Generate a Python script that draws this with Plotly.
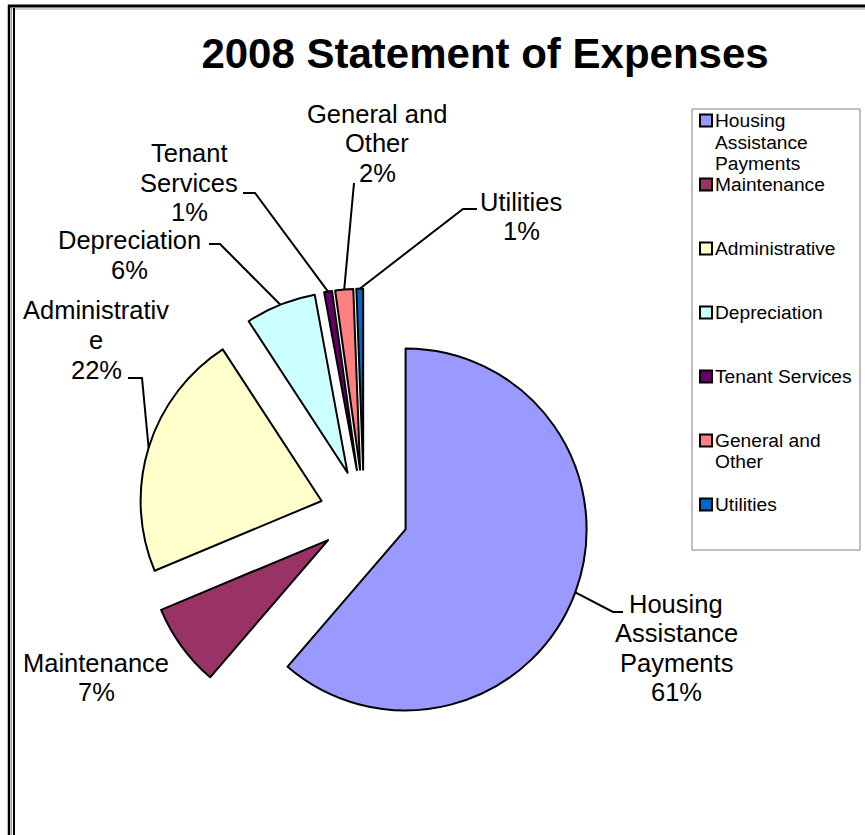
import math
import plotly.graph_objects as go

# ---------------- data ----------------
categories = ["Housing Assistance Payments", "Maintenance", "Administrative",
              "Depreciation", "Tenant Services", "General and Other", "Utilities"]
values = [61.3, 7.4, 22.1, 6.3, 0.7, 1.6, 0.6]
colors = ["#9999FF", "#993366", "#FFFFCC", "#CCFFFF", "#660066", "#FF8080", "#0066CC"]
legend_lines = [["Housing", "Assistance", "Payments"], ["Maintenance"], ["Administrative"],
                ["Depreciation"], ["Tenant Services"], ["General and", "Other"], ["Utilities"]]
label_lines = [["Housing", "Assistance", "Payments"], ["Maintenance"], ["Administrativ", "e"],
               ["Depreciation"], ["Tenant", "Services"], ["General and", "Other"], ["Utilities"]]
title_text = "2008 Statement of Expenses"

# ---------------- layout geometry (pixels) ----------------
W, H = 865, 835
CX, CY = 364, 514          # pie centre
R = 181                    # pie radius
PULL = 0.245               # explosion (fraction of radius)
FONT = "Arial, Liberation Sans, sans-serif"

label_pos = [(676, 603.5), (96, 662.5), (96, 310.5), (129, 240.5),
             (189, 153.5), (377, 113.5), (521, 201.5)]
label_leaders = [[(613, 612), (623, 612)], None, [(142, 378), (128, 378)],
                 [(220, 244), (209, 244)], [(255, 193), (243, 193)],
                 [(354, 183)], [(463, 209), (477, 209)]]
LABEL_FS, LABEL_LH = 25.5, 29.5
LEG_X0, LEG_Y0, LEG_X1, LEG_Y1 = 692, 109, 860, 550
LEG_FIRST, LEG_STEP, LEG_LH, LEG_FS = 120.5, 64, 21.5, 19.2


def px(x):
    return x / W


def py(y):
    return 1 - y / H


half = R * (1 + PULL)
fig = go.Figure(go.Pie(
    labels=categories, values=values, sort=False, direction="clockwise", rotation=0,
    pull=PULL, textinfo="none", hoverinfo="label+percent", showlegend=False,
    marker=dict(colors=colors, line=dict(color="black", width=2)),
    domain=dict(x=[px(CX - half), px(CX + half)], y=[py(CY + half), py(CY - half)]),
))

shapes = []
annotations = []

# outer frame (Excel style)
shapes += [
    dict(type="line", xref="paper", yref="paper", x0=px(8), x1=px(W), y0=py(6), y1=py(6),
         line=dict(color="black", width=3)),
    dict(type="line", xref="paper", yref="paper", x0=px(12), x1=px(W), y0=py(9), y1=py(9),
         line=dict(color="#a0a0a0", width=1)),
    dict(type="line", xref="paper", yref="paper", x0=px(9), x1=px(9), y0=py(5), y1=py(H),
         line=dict(color="black", width=2.5)),
    dict(type="line", xref="paper", yref="paper", x0=px(11.5), x1=px(11.5), y0=py(8), y1=py(H),
         line=dict(color="#a0a0a0", width=1)),
    dict(type="line", xref="paper", yref="paper", x0=px(14), x1=px(14), y0=py(8), y1=py(H),
         line=dict(color="black", width=2)),
]

# data labels with leader lines
total = sum(values)
cum = 0.0
for i, v in enumerate(values):
    a0 = cum / total * 360
    cum += v
    a1 = cum / total * 360
    mid = math.radians((a0 + a1) / 2)
    dx, dy = math.sin(mid), -math.cos(mid)
    ax_ = CX + (PULL * R + R) * dx
    ay_ = CY + (PULL * R + R) * dy
    lines = label_lines[i] + [f"{round(v / total * 100)}%"]
    lx, ly = label_pos[i]
    for k, t in enumerate(lines):
        annotations.append(dict(xref="paper", yref="paper", x=px(lx), y=py(ly + k * LABEL_LH),
                                text=t, showarrow=False, xanchor="center", yanchor="middle",
                                font=dict(family=FONT, size=LABEL_FS, color="black")))
    if label_leaders[i]:
        pts = [(ax_, ay_)] + label_leaders[i]
        path = "M " + " L ".join(f"{px(x):.5f},{py(y):.5f}" for x, y in pts)
        shapes.append(dict(type="path", xref="paper", yref="paper", path=path,
                           line=dict(color="black", width=2)))

# legend box
shapes.append(dict(type="rect", xref="paper", yref="paper", x0=px(LEG_X0), x1=px(LEG_X1),
                   y0=py(LEG_Y1), y1=py(LEG_Y0), line=dict(color="#808080", width=1),
                   fillcolor="white", layer="below"))
for i, name_lines in enumerate(legend_lines):
    yc = LEG_FIRST + i * LEG_STEP
    shapes.append(dict(type="rect", xref="paper", yref="paper", x0=px(700), x1=px(712),
                       y0=py(yc + 6), y1=py(yc - 6), fillcolor=colors[i],
                       line=dict(color="black", width=2)))
    for k, t in enumerate(name_lines):
        annotations.append(dict(xref="paper", yref="paper", x=px(713), y=py(yc + k * LEG_LH),
                                text=t, showarrow=False, xanchor="left", yanchor="middle",
                                font=dict(family=FONT, size=LEG_FS, color="black")))

fig.update_layout(
    width=W, height=H, margin=dict(l=0, r=0, t=0, b=0),
    paper_bgcolor="white", plot_bgcolor="white",
    title=dict(text=f"<b>{title_text}</b>", x=px(485), y=py(53), xanchor="center",
               yanchor="middle", font=dict(family=FONT, size=42, color="black")),
    shapes=shapes, annotations=annotations, showlegend=False,
)

fig.write_html("out.html")
